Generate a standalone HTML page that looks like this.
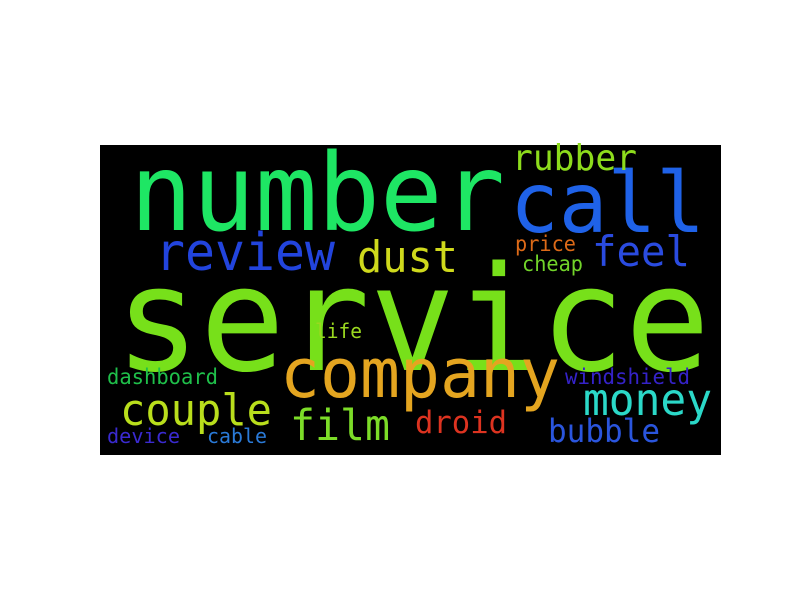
<!DOCTYPE html>
<html><head><meta charset="utf-8"><style>
html,body{margin:0;padding:0;background:#fff;}
svg{display:block}
text{font-family:"DejaVu Sans Mono","Liberation Mono",monospace;}
</style></head><body>
<svg id="c" width="800" height="600">
<rect x="100" y="145" width="621" height="310" fill="#000"/>
</svg>
<script>
const words = ["service","number","call","company","review","feel","dust","film","couple","money","droid","rubber","bubble","price","cheap","life","windshield","dashboard","device","cable"];
const xs = [115,130,510,280,155,592,357,290,120,583,415,512,548,515,522,315,565,107,107,207];
const ys = [370,230,232,397,270,266,272,440,425,415,433,170,442,251,271,338,384,384,443,443];
const widths = [595,375,195,280,180,98,101,100,152,129,92,125,112,61,61,47,125,111,73,60];
const colors = ["#77e01a","#1ee664","#1f62e8","#e4a520","#2244dd","#2a4be0","#cfd91c","#7cdc28","#b9de1c","#2bd8c8","#dd3320","#8ddc1c","#2a55dd","#dd6a18","#72d42a","#9ad820","#3522c8","#1fbf4a","#3a2ad0","#2a7ad8"];
const svg = document.getElementById('c');
for (let i = 0; i < words.length; i++) {
  const t = document.createElementNS('http://www.w3.org/2000/svg','text');
  const fs = 1.03 * widths[i] / (0.602 * words[i].length);
  t.setAttribute('x', xs[i]);
  t.setAttribute('y', ys[i]);
  t.setAttribute('font-size', fs.toFixed(1));
  t.setAttribute('fill', colors[i]);
  t.setAttribute('textLength', widths[i]);
  t.setAttribute('lengthAdjust', 'spacingAndGlyphs');
  t.textContent = words[i];
  
  
  svg.appendChild(t);
}
</script>
</body></html>
